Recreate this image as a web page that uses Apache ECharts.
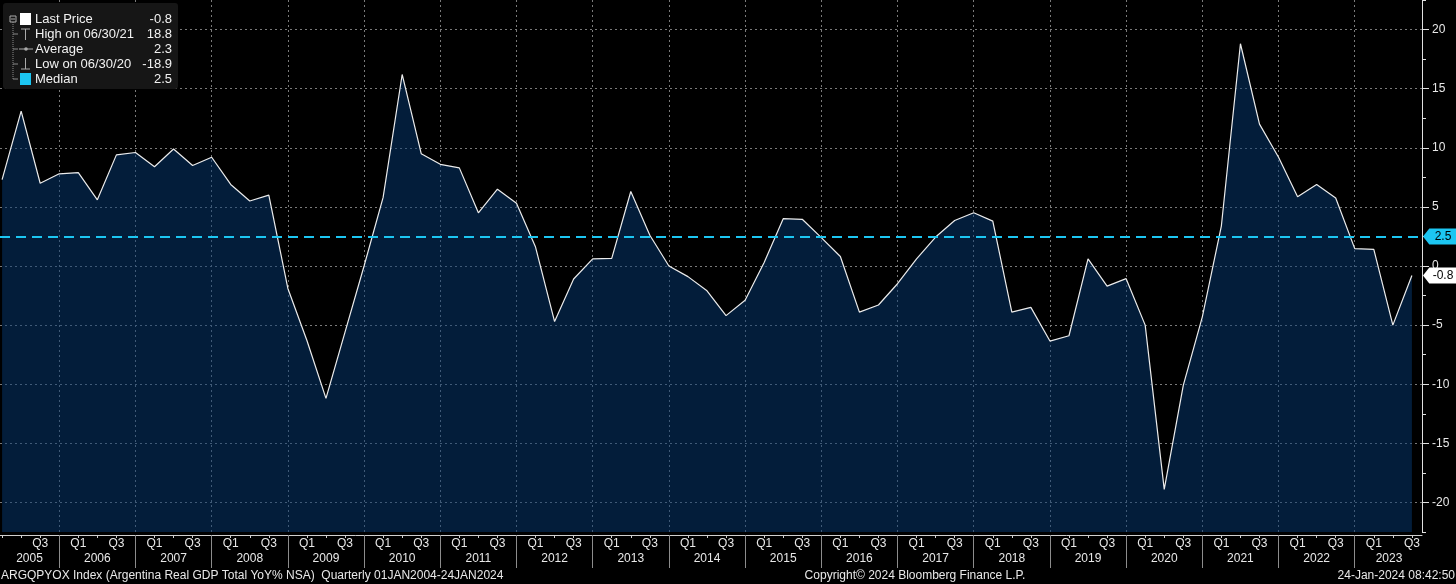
<!DOCTYPE html>
<html>
<head>
<meta charset="utf-8">
<script src="https://cdn.jsdelivr.net/npm/echarts@6/dist/echarts.min.js"></script>
<style>
  html, body { margin: 0; padding: 0; background: #000; }
  #chart { width: 1456px; height: 584px; }
</style>
</head>
<body>
<div id="chart"></div>
<script>
// Argentina real GDP YoY %, quarterly, Q1 2005 .. Q3 2023
const years = [2005, 2006, 2007, 2008, 2009, 2010, 2011, 2012, 2013, 2014,
  2015, 2016, 2017, 2018, 2019, 2020, 2021, 2022, 2023];
const gdpYoY = [
  7.3, 13.1, 7.0, 7.8,      // 2005
  7.9, 5.6, 9.4, 9.6,       // 2006
  8.4, 9.9, 8.5, 9.2,       // 2007
  6.9, 5.5, 6.0, -1.9,      // 2008
  -6.3, -11.2, -5.6, 0.0,   // 2009
  5.8, 16.2, 9.5, 8.6,      // 2010
  8.3, 4.5, 6.5, 5.3,       // 2011
  1.6, -4.7, -1.1, 0.6,     // 2012
  0.65, 6.3, 2.6, 0.0,      // 2013
  -0.9, -2.1, -4.2, -2.9,   // 2014
  0.3, 4.0, 3.95, 2.4,      // 2015
  0.8, -3.9, -3.3, -1.5,    // 2016
  0.6, 2.45, 3.85, 4.5,     // 2017
  3.8, -3.9, -3.5, -6.35,   // 2018
  -5.9, 0.6, -1.7, -1.07,   // 2019
  -5.0, -18.9, -10.1, -4.3, // 2020
  3.4, 18.8, 12.0, 9.2,     // 2021
  5.85, 6.9, 5.75, 1.47,    // 2022
  1.4, -5.0, -0.8           // 2023
];
const quarterNames = ['Q1', 'Q2', 'Q3', 'Q4'];
const yTicks = [-20, -15, -10, -5, 0, 5, 10, 15, 20];
const yMinorTicks = [-22.5, -17.5, -12.5, -7.5, -2.5, 2.5, 7.5, 12.5, 17.5, 22.5];
const medianValue = 2.5;
const lastValue = -0.8;
const legendRows = [
  ['Last Price', '-0.8'],
  ['High on 06/30/21', '18.8'],
  ['Average', '2.3'],
  ['Low on 06/30/20', '-18.9'],
  ['Median', '2.5']
];
const footerLeft = 'ARGQPYOX Index (Argentina Real GDP Total YoY% NSA)  Quarterly 01JAN2004-24JAN2024';
const footerMid = 'Copyright\u00a9 2024 Bloomberg Finance L.P.';
const footerRight = '24-Jan-2024 08:42:50';

const FONT = '"Liberation Sans", Arial, sans-serif';
const TXT = '#e8e8e8';
const GRID = '#7a7a7a';
const CYAN = '#1cc6f2';

// x axis is the quarter index (0 = Q1 2005)
const xMin = -0.11, xMax = 74.53;
const seriesData = gdpYoY.map((v, i) => [i, v]);
const quarterTicks = gdpYoY.map((v, i) => i);
const qLabelVals = quarterTicks.filter(i => i % 2 === 0 && i > 0);
const yearBounds = years.slice(1).map((y, k) => 3 + 4 * k);
const yearCenters = years.map((y, k) => k === 0 ? 1.44 : (k === years.length - 1 ? 72.8 : 1 + 4 * k));

const chart = echarts.init(document.getElementById('chart'));

// legend box drawn as graphic elements
const g = [{
  type: 'rect', shape: { x: 3, y: 3, width: 175, height: 86, r: 3 },
  style: { fill: '#161616' }, z: 10
}, {
  type: 'line', shape: { x1: 13, y1: 22, x2: 13, y2: 80 },
  style: { stroke: '#888', lineWidth: 1, lineDash: [1, 1] }, z: 11
}, {
  type: 'rect', shape: { x: 10, y: 16, width: 6, height: 6 },
  style: { fill: 'none', stroke: '#aaa', lineWidth: 1 }, z: 11
}, {
  type: 'line', shape: { x1: 11, y1: 19, x2: 15, y2: 19 },
  style: { stroke: '#aaa', lineWidth: 1 }, z: 11
}];
legendRows.forEach((r, i) => {
  const y = 19 + 15 * i;
  if (i > 0) g.push({ type: 'line', shape: { x1: 13, y1: y, x2: 18, y2: y }, style: { stroke: '#888', lineWidth: 1 }, z: 11 });
  g.push({ type: 'text', x: 35, y: y, z: 11, style: { text: r[0], fill: '#f2f2f2', font: '13px ' + FONT, verticalAlign: 'middle' } });
  g.push({ type: 'text', x: 172, y: y, z: 11, style: { text: r[1], fill: '#f2f2f2', font: '13px ' + FONT, align: 'right', verticalAlign: 'middle' } });
});
// row icons
g.push({ type: 'rect', shape: { x: 20, y: 13, width: 11, height: 12 }, style: { fill: '#fff' }, z: 11 });
g.push({ type: 'line', shape: { x1: 21, y1: 29, x2: 30, y2: 29 }, style: { stroke: '#aaa', lineWidth: 1 }, z: 11 });
g.push({ type: 'line', shape: { x1: 25.5, y1: 29, x2: 25.5, y2: 40 }, style: { stroke: '#aaa', lineWidth: 1 }, z: 11 });
g.push({ type: 'line', shape: { x1: 19, y1: 49, x2: 33, y2: 49 }, style: { stroke: '#aaa', lineWidth: 1 }, z: 11 });
g.push({ type: 'circle', shape: { cx: 26, cy: 49, r: 1.8 }, style: { fill: '#aaa' }, z: 11 });
g.push({ type: 'line', shape: { x1: 25.5, y1: 58, x2: 25.5, y2: 69 }, style: { stroke: '#aaa', lineWidth: 1 }, z: 11 });
g.push({ type: 'line', shape: { x1: 21, y1: 69, x2: 30, y2: 69 }, style: { stroke: '#aaa', lineWidth: 1 }, z: 11 });
g.push({ type: 'rect', shape: { x: 20, y: 73, width: 11, height: 12 }, style: { fill: CYAN }, z: 11 });
// footer
g.push({ type: 'text', x: 1, y: 576, style: { text: footerLeft, fill: TXT, font: '12px ' + FONT, verticalAlign: 'middle' } });
g.push({ type: 'text', x: 915, y: 576, style: { text: footerMid, fill: TXT, font: '12px ' + FONT, align: 'center', verticalAlign: 'middle' } });
g.push({ type: 'text', x: 1455, y: 576, style: { text: footerRight, fill: TXT, font: '12px ' + FONT, align: 'right', verticalAlign: 'middle' } });

chart.setOption({
  backgroundColor: '#000',
  animation: false,
  textStyle: { fontFamily: FONT },
  grid: { left: 0, right: 34, top: 0, bottom: 52, containLabel: false },
  xAxis: [{
    type: 'value', min: xMin, max: xMax, position: 'bottom', offset: 3,
    axisLine: { show: true, onZero: false, lineStyle: { color: '#d0d0d0', width: 1 } },
    axisTick: { show: true, length: 3, lineStyle: { color: '#d0d0d0' }, customValues: quarterTicks },
    axisLabel: {
      color: TXT, fontSize: 12, margin: 3, customValues: qLabelVals,
      formatter: v => quarterNames[Math.round(v) % 4]
    },
    splitLine: { show: false }
  }, {
    type: 'value', min: xMin, max: xMax, position: 'bottom', offset: 3,
    axisLine: { show: false, onZero: false },
    axisTick: { show: true, length: 33, lineStyle: { color: '#8c8c8c' }, customValues: yearBounds },
    axisLabel: {
      color: TXT, fontSize: 12, margin: 18, customValues: yearCenters,
      formatter: v => String(years[Math.round((v - 1) / 4)])
    },
    splitLine: { show: true, lineStyle: { color: GRID, type: [2, 3], width: 1 } }
  }],
  yAxis: [{
    type: 'value', min: -22.5, max: 22.5, position: 'right',
    axisLine: { show: true, onZero: false, lineStyle: { color: '#e0e0e0', width: 1 } },
    axisTick: { show: true, length: 7, lineStyle: { color: '#e0e0e0' }, customValues: yTicks },
    axisLabel: { color: TXT, fontSize: 12, margin: 10, customValues: yTicks },
    splitLine: { show: true, lineStyle: { color: GRID, type: [2, 3], width: 1 } }
  }, {
    type: 'value', min: -22.5, max: 22.5, position: 'right',
    axisLine: { show: false, onZero: false },
    axisTick: { show: true, length: 4, lineStyle: { color: '#e0e0e0' }, customValues: yMinorTicks },
    axisLabel: { show: false },
    splitLine: { show: false }
  }],
  series: [{
    type: 'line',
    name: 'Last Price',
    data: seriesData,
    xAxisIndex: 0,
    yAxisIndex: 0,
    clip: false,
    showSymbol: false,
    lineStyle: { color: '#ececec', width: 1.2 },
    itemStyle: { color: '#ececec' },
    areaStyle: { color: 'rgb(6,58,116)', opacity: 0.5, origin: 'start' },
    markLine: {
      silent: true, symbol: 'none', animation: false,
      label: { show: false },
      lineStyle: { color: CYAN, type: [10, 6], width: 2 },
      data: [{ yAxis: medianValue }]
    },
    markPoint: {
      silent: true,
      symbol: 'path://M0,8 L7,0 L40,0 L40,16 L7,16 Z',
      symbolSize: [36, 16],
      symbolOffset: [19, 0],
      label: { show: true, color: '#000', fontSize: 12, offset: [2, 0], formatter: p => p.value.toFixed(1) },
      data: [
        { coord: [xMax, medianValue], value: medianValue, itemStyle: { color: CYAN } },
        { coord: [xMax, lastValue], value: lastValue, itemStyle: { color: '#ffffff' } }
      ]
    }
  }],
  graphic: g
});
</script>
</body>
</html>
